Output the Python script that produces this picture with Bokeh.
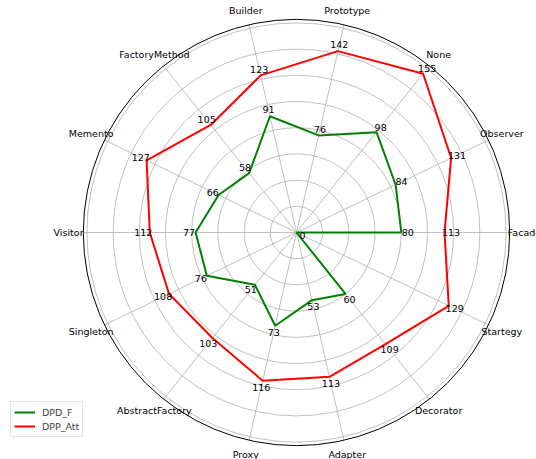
import numpy as np
from bokeh.plotting import figure
from bokeh.models import Range1d, Legend, LegendItem, ColumnDataSource
from bokeh.embed import file_html
from bokeh.resources import INLINE

categories = ["Facade", "Observer", "None", "Prototype", "Builder", "FactoryMethod",
              "Memento", "Visitor", "Singleton", "AbstractFactory", "Proxy",
              "Adapter", "Decorator", "Startegy"]
dpd_f = [80, 84, 98, 76, 91, 58, 66, 77, 76, 51, 73, 53, 60, 0]
dpp_att = [113, 131, 155, 142, 123, 105, 127, 112, 108, 103, 116, 113, 109, 129]
grid_rings = [20, 40, 60, 80, 100, 120, 140, 160]

R_MAX = 162.75
LABEL_R = 174
W, H = 536, 459
SCALE = 1.31
CX, CY = 296, 232
FONT = "DejaVu Sans"
FS = "9.5px"

n = len(categories)
theta = np.arange(n) * 2 * np.pi / n

p = figure(width=W, height=H,
           x_range=Range1d(-CX / SCALE, (W - CX) / SCALE),
           y_range=Range1d(-(H - CY) / SCALE, CY / SCALE),
           x_axis_type=None, y_axis_type=None,
           output_backend="svg", toolbar_location=None, min_border=0)
p.outline_line_color = None
p.background_fill_color = "white"
p.border_fill_color = "white"

# grid rings
p.circle(x=[0] * len(grid_rings), y=[0] * len(grid_rings), radius=grid_rings,
         fill_color=None, line_color="#b0b0b0", line_width=0.8)
# spokes
p.segment(x0=[0] * n, y0=[0] * n, x1=R_MAX * np.cos(theta), y1=R_MAX * np.sin(theta),
          line_color="#b0b0b0", line_width=0.8)
# outer spine
p.circle(x=[0], y=[0], radius=[R_MAX], fill_color=None, line_color="black", line_width=1)

def closed_xy(vals):
    v = np.array(vals + vals[:1], dtype=float)
    t = np.append(theta, theta[0])
    return v * np.cos(t), v * np.sin(t)

gx, gy = closed_xy(dpd_f)
rx, ry = closed_xy(dpp_att)
g = p.line(gx, gy, line_color="green", line_width=2)
r = p.line(rx, ry, line_color="red", line_width=2)

# value labels
for vals in (dpd_f, dpp_att):
    rr = np.array(vals, dtype=float) + 5
    src = ColumnDataSource(dict(x=rr * np.cos(theta), y=rr * np.sin(theta),
                                t=[str(v) for v in vals]))
    p.text(x="x", y="y", text="t", source=src, text_align="center",
           text_baseline="middle", text_font={"value": FONT},
           text_font_size={"value": FS}, text_color="black")

# category labels
src = ColumnDataSource(dict(x=LABEL_R * np.cos(theta), y=LABEL_R * np.sin(theta), t=categories))
p.text(x="x", y="y", text="t", source=src, text_align="center", text_baseline="middle",
       text_font={"value": FONT}, text_font_size={"value": FS}, text_color="black")

legend = Legend(items=[LegendItem(label="DPD_F", renderers=[g]),
                       LegendItem(label="DPP_Att", renderers=[r])],
                location=(10, 22))
legend.label_text_font = FONT
legend.label_text_font_size = FS
legend.border_line_color = "#cccccc"
legend.background_fill_alpha = 0.8
legend.padding = 3
legend.spacing = 0
legend.margin = 0
legend.glyph_width = 21
legend.glyph_height = 14
legend.label_height = 14
legend.label_standoff = 7
p.add_layout(legend)

open("out.html", "w").write(file_html(p, INLINE))
